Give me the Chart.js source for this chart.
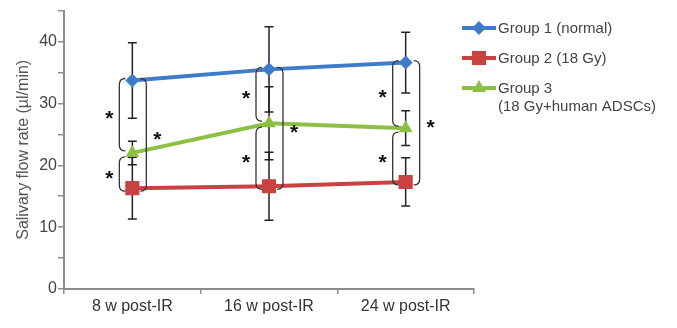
<!DOCTYPE html>
<html>
<head>
<meta charset="utf-8">
<script src="https://cdn.jsdelivr.net/npm/chart.js@4/dist/chart.umd.min.js"></script>
<style>
  html, body { margin: 0; padding: 0; background: #fff; }
  #wrap { width: 677px; height: 328px; position: relative; }
</style>
</head>
<body>
<div id="wrap"><canvas id="flowChart"></canvas></div>
<script>
// data
const timePoints = ["8 w post-IR", "16 w post-IR", "24 w post-IR"];
const seriesNames = ["Group 1 (normal)", "Group 2 (18 Gy)", ["Group 3", "(18 Gy+human ADSCs)"]];
const group1 = [33.7, 35.5, 36.6];
const group2 = [16.3, 16.6, 17.3];
const group3 = [22.0, 26.8, 26.0];
const group1Err = [6.1, 6.9, 4.9];
const group2Err = [5.0, 5.5, 3.9];
const group3Err = [1.9, 5.9, 2.8];

// significance brackets: time point, upper series, lower series, side
const sigTime = [0, 0, 0, 1, 1, 1, 2, 2, 2];
const sigUpper = [0, 2, 0, 0, 2, 0, 0, 2, 0];
const sigLower = [2, 1, 1, 2, 1, 1, 2, 1, 1];
const sigSide = ["left", "left", "right", "left", "left", "right", "left", "left", "right"];

const colors = ["#3d7cc9", "#c94141", "#8dbf45"];
const markers = ["rectRot", "rect", "triangle"];
const markerSize = [7, 10, 8];
const errors = [group1Err, group2Err, group3Err];

const textFont = "'Liberation Sans', Arial, sans-serif";

// error bars sit under the lines and markers
const errorBars = {
    id: "errorBars",
    beforeDatasetsDraw(chart) {
        const ctx = chart.ctx;
        const x = chart.scales.x, y = chart.scales.y;
        ctx.save();
        ctx.strokeStyle = "#222";
        ctx.lineWidth = 1.5;
        chart.data.datasets.forEach((ds, i) => {
            ds.data.forEach((v, j) => {
                const px = x.getPixelForValue(j);
                const top = y.getPixelForValue(v + errors[i][j]);
                const bot = y.getPixelForValue(v - errors[i][j]);
                ctx.beginPath();
                ctx.moveTo(px, top); ctx.lineTo(px, bot);
                ctx.moveTo(px - 4.5, top); ctx.lineTo(px + 4.5, top);
                ctx.moveTo(px - 4.5, bot); ctx.lineTo(px + 4.5, bot);
                ctx.stroke();
            });
        });
        ctx.restore();
    }
};

function drawBracket(ctx, x, y1, y2, dir) {
    const hook = 6, r = 6;
    ctx.beginPath();
    ctx.moveTo(x + dir * hook, y1);
    ctx.quadraticCurveTo(x, y1, x, y1 + r);
    ctx.lineTo(x, y2 - r);
    ctx.quadraticCurveTo(x, y2, x + dir * hook, y2);
    ctx.stroke();
}

function drawMarker(ctx, style, x, y, r) {
    ctx.beginPath();
    if (style === "rect") {
        const s = r * Math.SQRT1_2;
        ctx.rect(x - s, y - s, 2 * s, 2 * s);
    } else if (style === "rectRot") {
        ctx.moveTo(x, y - r); ctx.lineTo(x + r, y); ctx.lineTo(x, y + r); ctx.lineTo(x - r, y);
        ctx.closePath();
    } else {
        ctx.moveTo(x, y - r);
        ctx.lineTo(x + r * Math.sin(2 * Math.PI / 3), y - r * Math.cos(2 * Math.PI / 3));
        ctx.lineTo(x + r * Math.sin(4 * Math.PI / 3), y - r * Math.cos(4 * Math.PI / 3));
        ctx.closePath();
    }
    ctx.fill();
}

const annotations = {
    id: "annotations",
    afterDraw(chart) {
        const ctx = chart.ctx;
        const x = chart.scales.x, y = chart.scales.y;
        const sets = chart.data.datasets;
        ctx.save();
        // brackets + stars
        ctx.strokeStyle = "#333";
        ctx.lineWidth = 1.3;
        ctx.fillStyle = "#111";
        ctx.font = "bold 21px " + textFont;
        ctx.textAlign = "center";
        ctx.textBaseline = "middle";
        sigTime.forEach((t, k) => {
            const px = x.getPixelForValue(t);
            const upper = sigUpper[k], lower = sigLower[k];
            const yTop = y.getPixelForValue(sets[upper].data[t]) - (upper === 2 ? -4 : 2);
            const yBot = y.getPixelForValue(sets[lower].data[t]) + (lower === 2 ? -2 : 3);
            const left = sigSide[k] === "left";
            const bx = left ? px - 13 : px + 14;
            drawBracket(ctx, bx, yTop, yBot, left ? 1 : -1);
            ctx.fillText("*", left ? bx - 10 : bx + 11, (yTop + yBot) / 2 + 5);
        });

        // legend
        const lx = 462, ly = 28, gap = 30;
        ctx.font = "15px " + textFont;
        ctx.textAlign = "left";
        sets.forEach((ds, i) => {
            const yy = ly + i * gap;
            ctx.strokeStyle = colors[i];
            ctx.lineWidth = 4;
            ctx.beginPath();
            ctx.moveTo(lx, yy); ctx.lineTo(lx + 34, yy);
            ctx.stroke();
            ctx.fillStyle = colors[i];
            drawMarker(ctx, markers[i], lx + 17, yy, markerSize[i]);
            ctx.fillStyle = "#444";
            const lines = [].concat(seriesNames[i]);
            lines.forEach((line, n) => ctx.fillText(line, lx + 36, yy + 1 + n * 18));
        });
        ctx.restore();
    }
};

new Chart(document.getElementById("flowChart"), {
    type: "line",
    data: {
        labels: timePoints,
        datasets: [group1, group2, group3].map((d, i) => ({
            label: [].concat(seriesNames[i]).join(" "),
            data: d,
            borderColor: colors[i],
            backgroundColor: colors[i],
            borderWidth: 4,
            pointStyle: markers[i],
            pointRadius: markerSize[i],
            pointHoverRadius: markerSize[i],
            pointBorderWidth: 0,
            tension: 0
        }))
    },
    options: {
        responsive: true,
        maintainAspectRatio: false,
        animation: false,
        layout: { padding: { left: 0, top: 8, right: 203, bottom: 0 } },
        plugins: { legend: { display: false }, tooltip: { enabled: false } },
        scales: {
            x: {
                offset: true,
                border: { color: "#8c8c8c", width: 2 },
                grid: { offset: true, drawOnChartArea: false, tickLength: 5, color: "#8c8c8c", lineWidth: 1.5 },
                ticks: { color: "#333", font: { family: textFont, size: 16 }, padding: 3, maxRotation: 0 },
                afterFit(s) { s.height = 39; }
            },
            y: {
                min: 0,
                max: 45,
                border: { color: "#8c8c8c", width: 2 },
                grid: { drawOnChartArea: false, tickLength: 6, color: "#8c8c8c", lineWidth: 1.5 },
                ticks: {
                    stepSize: 5,
                    padding: 1,
                    color: "#444",
                    font: { family: textFont, size: 16 },
                    callback: v => (v % 10 === 0 ? v : "")
                },
                title: {
                    display: true,
                    text: "Salivary flow rate (µl/min)",
                    color: "#555",
                    font: { family: textFont, size: 16 },
                    padding: { top: 14, bottom: 0 }
                },
                afterFit(s) { s.width = 64; }
            }
        }
    },
    plugins: [errorBars, annotations]
});
</script>
</body>
</html>
